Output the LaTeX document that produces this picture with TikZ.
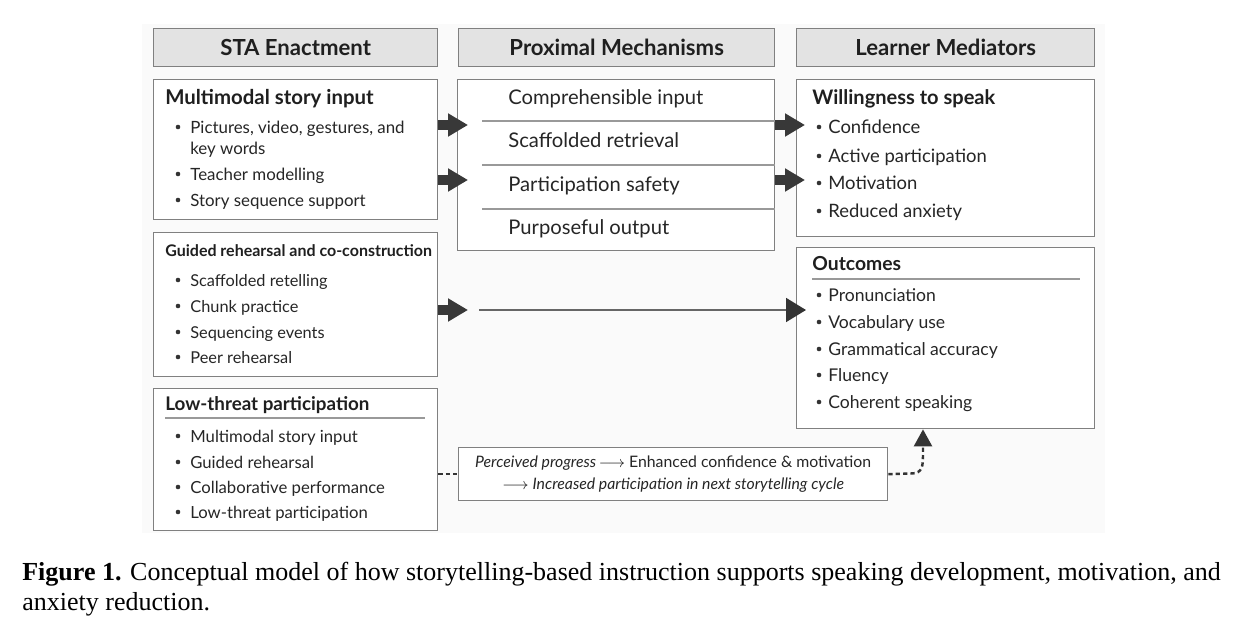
\documentclass[tikz,border=0pt]{standalone}
\usepackage{fontspec}
\setmainfont{Lato}
\newfontfamily\capfont{Liberation Serif}
\usetikzlibrary{arrows.meta}

\begin{document}
\begin{tikzpicture}[x=0.02cm, y=-0.02cm,
    box/.style={draw=black!50, line width=0.8pt, fill=white, anchor=north west, inner sep=0pt},
    head/.style={box, fill=black!11, text=black!88, font=\fontsize{12.6}{14}\selectfont\bfseries},
    ttl/.style={anchor=west, inner sep=0pt, yshift=-1.1pt, text=black!88, text height=8pt, text depth=2.5pt, font=\fontsize{#1}{13}\selectfont\bfseries},
    ttl/.default=11,
    itm/.style={anchor=west, inner sep=0pt, yshift=-1.1pt, text=black!85, text height=8pt, text depth=2.5pt, font=\fontsize{#1}{12}\selectfont},
    itm/.default=10.5,
    sep/.style={draw=black!40, line width=0.6pt},
    fat/.style={line width=0.2cm, draw=black!78, -{Triangle[length=0.4cm, width=0.44cm]}},
    thin/.style={line width=1pt, draw=black!60, -{Triangle[length=0.4cm, width=0.48cm, color=black!80]}},
    fbk/.style={line width=1.4pt, draw=black!80, dash pattern=on 2.4pt off 1.8pt, -{Triangle[length=0.34cm, width=0.36cm]}},
    fbkline/.style={line width=1.4pt, draw=black!80, dash pattern=on 2.4pt off 1.8pt}]
    \useasboundingbox (0,0) rectangle (1240,624);
    \fill[black!2] (142,24) rectangle (1105,533);

    % Column headers
    \node[head, minimum width=5.68cm, minimum height=0.76cm] (STA) at (153,28) {STA Enactment};
    \node[head, minimum width=6.32cm, minimum height=0.76cm] (PMH) at (458,28) {Proximal Mechanisms};
    \node[head, minimum width=5.96cm, minimum height=0.76cm] (LMH) at (796,28) {Learner Mediators};

    % STA enactment boxes
    \node[box, minimum width=5.68cm, minimum height=2.8cm] (MSI) at (153,79) {};
    \node[box, minimum width=5.68cm, minimum height=2.88cm] (GRC) at (153,232) {};
    \node[box, minimum width=5.68cm, minimum height=2.84cm] (LTP) at (153,388) {};

    % Proximal mechanisms
    \node[box, minimum width=6.34cm, minimum height=3.42cm] (PRX) at (457,79) {};
    \foreach \y in {121,165,209}
        \draw[sep] ([xshift=0.5cm]PRX.west |- 0,\y) -- (PRX.east |- 0,\y);

    % Learner mediators
    \node[box, minimum width=5.96cm, minimum height=3.14cm] (WTS) at (796,79) {};
    \node[box, minimum width=5.96cm, minimum height=3.62cm] (OUT) at (796,247) {};

    % Feedback loop
    \node[box, minimum width=8.58cm, minimum height=1.06cm, align=center, text=black!85,
          font=\fontsize{9}{12.5}\selectfont] (FBK) at (458,447)
        {\textit{Perceived progress}$\,\longrightarrow$ Enhanced confidence \& motivation\\
         $\longrightarrow$ \textit{Increased participation in next storytelling cycle}};

    % Titles
    \node[ttl=11.6] (tMSI) at (165,98) {Multimodal story input};
    \node[ttl=9.1] (tGRC) at (165,250) {Guided rehearsal and co-construction};
    \node[ttl=10.7] (tLTP) at (165,404) {Low-threat participation};
    \node[ttl=11.4] (tWTS) at (812,98) {Willingness to speak};
    \node[ttl=11] (tOUT) at (812,264) {Outcomes};
    \draw[sep] (165,418) -- (425,418);
    \draw[sep] (812,279) -- (1080,279);

    % Items, left column
    \foreach \y/\t [count=\i] in {127/{Pictures, video, gestures, and}, 174/Teacher modelling, 200/Story sequence support}{
        \fill[black!80] (178,\y) circle (2.3);
        \node[itm=9.6] (iMSI\i) at (190,\y) {\t};
    }
    \node[itm=9.6] (iMSIk) at (190,148) {key words};
    \foreach \y/\t [count=\i] in {280/Scaffolded retelling, 306/Chunk practice, 332/Sequencing events, 357/Peer rehearsal}{
        \fill[black!80] (178,\y) circle (2.3);
        \node[itm=9.3] (iGRC\i) at (190,\y) {\t};
    }
    \foreach \y/\t [count=\i] in {436/Multimodal story input, 462/Guided rehearsal, 487/Collaborative performance, 512/Low-threat participation}{
        \fill[black!80] (178,\y) circle (2.3);
        \node[itm=9.5] (iLTP\i) at (190,\y) {\t};
    }

    % Items, middle column
    \foreach \y/\t [count=\i] in {98/Comprehensible input, 141/Scaffolded retrieval, 185/Participation safety, 228/Purposeful output}
        \node[itm=11.5] (iPRX\i) at (508,\y) {\t};

    % Items, right column
    \foreach \y/\t [count=\i] in {127/Confidence, 156/Active participation, 183/Motivation, 211/Reduced anxiety}{
        \fill[black!80] (819,\y) circle (2.3);
        \node[itm=10.5] (iWTS\i) at (828,\y) {\t};
    }
    \foreach \y/\t [count=\i] in {295/Pronunciation, 322/Vocabulary use, 349/Grammatical accuracy, 375/Fluency, 402/Coherent speaking}{
        \fill[black!80] (819,\y) circle (2.3);
        \node[itm=10] (iOUT\i) at (828,\y) {\t};
    }

    % Connections
    \foreach \y in {125,180}{
        \draw[fat] (MSI.east |- 0,\y) -- ([xshift=0.22cm]PRX.west |- 0,\y);
        \draw[fat] (PRX.east |- 0,\y) -- ([xshift=0.18cm]WTS.west |- 0,\y);
    }
    \coordinate (GRCa) at (468,310);
    \coordinate (GRCb) at (479,310);
    \draw[fat] (GRC.east |- GRCa) -- (GRCa);
    \draw[thin] (GRCb) -- ([xshift=0.2cm]OUT.west |- GRCb);

    \draw[fbkline] (LTP.east |- FBK.west) -- (FBK.west);
    \draw[fbk] (FBK.east) -- (911,473.5) .. controls (923,473.5) and (923,466) .. (923,452) -- (OUT.south -| 923,0);

    % Caption
    \node[anchor=base west, inner sep=0pt, align=left, font=\capfont\fontsize{14.8}{17}\selectfont] (CAP) at (22,610)
        {\textbf{Figure 1.} Conceptual model of how storytelling-based instruction supports speaking development, motivation, and\\
         anxiety reduction.};
\end{tikzpicture}
\end{document}
